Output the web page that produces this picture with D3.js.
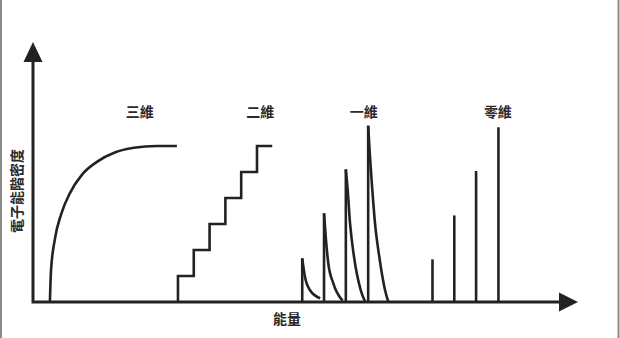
<!DOCTYPE html>
<html lang="zh-Hant">
<head>
    <meta charset="UTF-8">
    <title>電子能階密度</title>
    <script src="https://d3js.org/d3.v7.min.js"></script>
    <style>
        body { margin: 0; background: #fff; }
        text { font-family: "Noto Sans CJK TC", "Noto Sans", sans-serif; font-weight: 700; fill: #2a2a2a; }
    </style>
</head>
<body>
    <div class="canvas"></div>
    <script>
        const width = 620
        const height = 338

        // 三維: 連續曲線 (能量, 密度)
        const curve3E = [3.1, 3.3, 4.0, 5.2, 6.8, 9.0, 11.8, 15.0, 18.5, 22.7, 26.4]
        const curve3D = [0, 1.2, 2.4, 3.4, 4.2, 4.9, 5.4, 5.75, 5.93, 6.0, 6.0]

        // 二維: 階梯
        const stepE = [26.6, 29.5, 32.4, 35.3, 38.2, 41.1]
        const stepD = [1, 2, 3, 4, 5, 6]
        const stepEndE = 43.9

        // 一維: 尖峰 + 衰減
        const peak1E = [49.4, 53.4, 57.4, 61.5]
        const peak1D = [1.68, 3.41, 5.1, 6.78]
        const decay1 = [
            [[49.9, 0.97], [50.8, 0.46], [52.7, 0.14]],
            [[53.76, 2.38], [54.18, 1.49], [55.1, 0.72], [56.8, 0.05]],
            [[57.74, 4.31], [58.17, 3.03], [58.9, 1.74], [60.13, 0.46], [60.9, 0.03]],
            [[61.83, 5.59], [62.26, 4.31], [62.75, 3.03], [63.54, 1.74], [64.59, 0.46], [65.2, 0]]
        ]

        // 零維: 離散線
        const zeroE = [73.3, 77.3, 81.3, 85.4]
        const zeroD = [1.64, 3.33, 5.04, 6.72]

        const labels = ['三維', '二維', '一維', '零維']
        const labelE = [19.6, 41.7, 60.7, 85.3]
        const labelD = 7.29

        const svg = d3.select('.canvas')
                    .append('svg')
                    .attr('width', width)
                    .attr('height', height)

        // 左右邊框
        svg.append('line').attr('x1', 1).attr('x2', 1).attr('y1', 0).attr('y2', height)
            .attr('stroke', '#8a8a8a').attr('stroke-width', 2)
        svg.append('line').attr('x1', 618.5).attr('x2', 618.5).attr('y1', 0).attr('y2', height)
            .attr('stroke', '#8a8a8a').attr('stroke-width', 2)

        const x = d3.scaleLinear().domain([0, 100]).range([33, 578])
        const y = d3.scaleLinear().domain([0, 10]).range([302, 42])

        const ink = '#222'
        const lineW = 2.6

        // 座標軸
        svg.append('path')
            .attr('d', `M${x(0)},${y(0)}V${y(10) + 18}M${x(0) - 1.5},${y(0)}H${x(100) - 18}`)
            .attr('fill', 'none').attr('stroke', ink).attr('stroke-width', 3)
        svg.append('path')
            .attr('d', `M${x(0)},${y(10)}L${x(0) - 9.5},${y(10) + 20}L${x(0) + 9.5},${y(10) + 20}Z`)
            .attr('fill', ink)
        svg.append('path')
            .attr('d', `M${x(100)},${y(0)}L${x(100) - 19},${y(0) - 9.5}L${x(100) - 19},${y(0) + 9.5}Z`)
            .attr('fill', ink)

        const line = d3.line().x(d => x(d[0])).y(d => y(d[1]))

        const g = svg.append('g')
            .attr('fill', 'none')
            .attr('stroke', ink)
            .attr('stroke-width', lineW)

        // 三維
        g.append('path')
            .attr('d', line.curve(d3.curveMonotoneX)(curve3E.map((e, i) => [e, curve3D[i]])))

        // 二維
        const stairs = [[stepE[0], 0]].concat(stepE.map((e, i) => [e, stepD[i]]), [[stepEndE, stepD[stepD.length - 1]]])
        g.append('path')
            .attr('d', d3.line().x(d => x(d[0])).y(d => y(d[1])).curve(d3.curveStepAfter)(stairs))

        // 一維
        g.selectAll('.peak1')
            .data(peak1E)
            .enter()
            .append('path')
            .attr('class', 'peak1')
            .attr('d', (e, i) => `M${x(e)},${y(0)}V${y(peak1D[i])}`)
        g.selectAll('.decay1')
            .data(decay1)
            .enter()
            .append('path')
            .attr('class', 'decay1')
            .attr('d', (pts, i) => d3.line().x(d => x(d[0])).y(d => y(d[1]))
                .curve(d3.curveMonotoneX)([[peak1E[i], peak1D[i]]].concat(pts)))

        // 零維
        g.selectAll('.zero')
            .data(zeroE)
            .enter()
            .append('line')
            .attr('class', 'zero')
            .attr('x1', d => x(d)).attr('x2', d => x(d))
            .attr('y1', y(0)).attr('y2', (d, i) => y(zeroD[i]))

        // 文字
        svg.selectAll('.dim')
            .data(labels)
            .enter()
            .append('text')
            .attr('class', 'dim')
            .attr('x', (d, i) => x(labelE[i]))
            .attr('y', y(labelD))
            .attr('dy', '0.35em')
            .attr('text-anchor', 'middle')
            .style('font-size', '14px')
            .text(d => d)

        svg.append('text')
            .attr('x', 287).attr('y', 319).attr('dy', '0.35em')
            .attr('text-anchor', 'middle')
            .style('font-size', '14px')
            .text('能量')

        svg.append('text')
            .attr('transform', 'translate(17,191) rotate(-90)')
            .attr('dy', '0.35em')
            .attr('text-anchor', 'middle')
            .style('font-size', '14px')
            .text('電子能階密度')
    </script>
</body>
</html>
